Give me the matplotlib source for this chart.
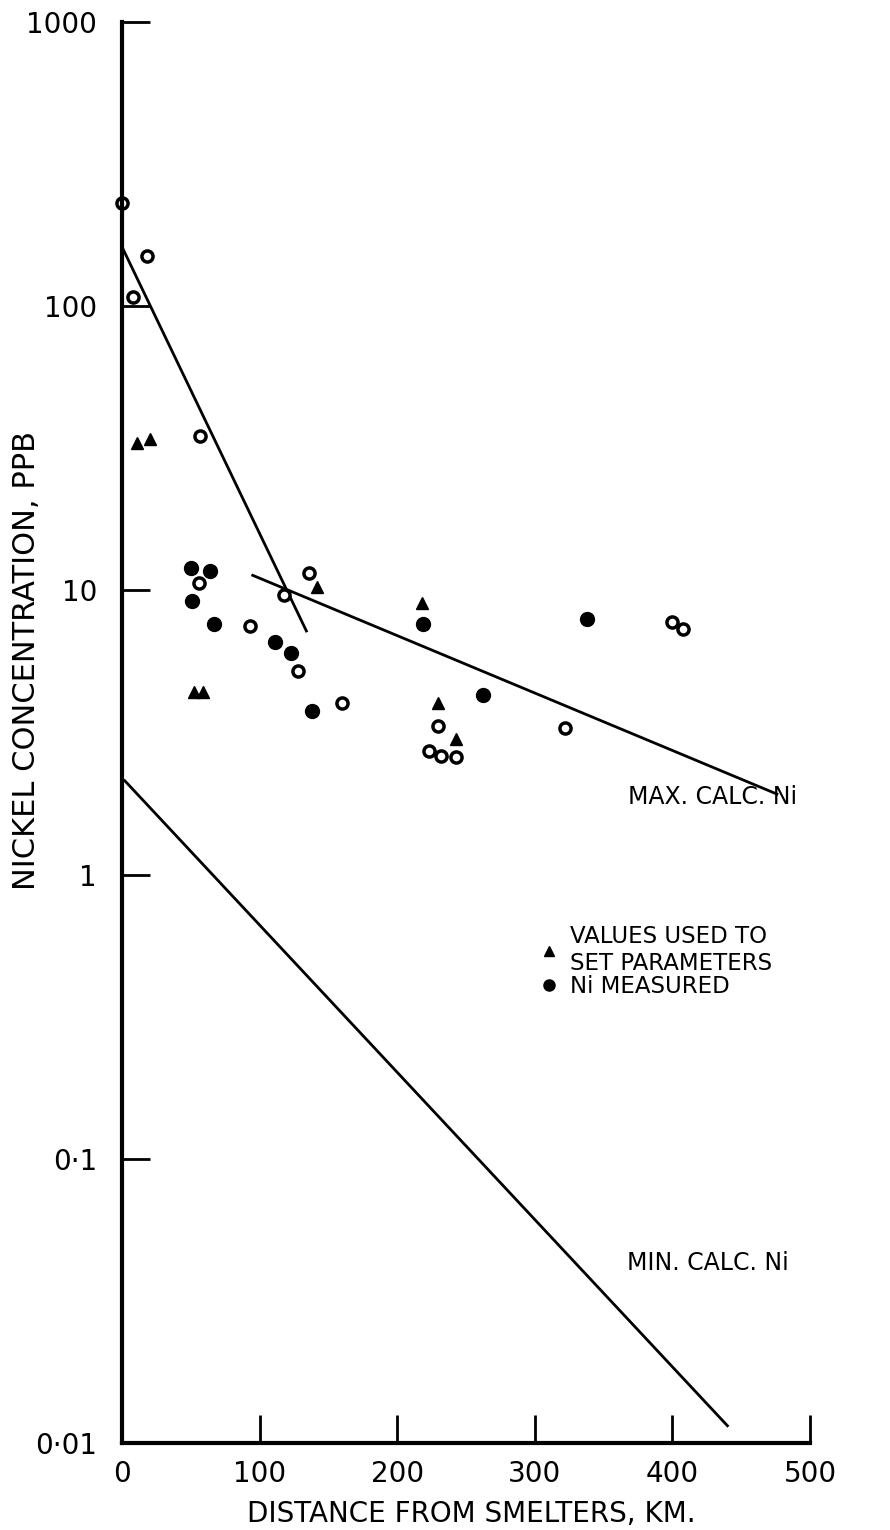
import numpy as np
import matplotlib
matplotlib.use("Agg")
from matplotlib import pyplot as plt

# %%
# Ni measured (filled circles)
meas_x = [50, 64, 51, 67, 111, 123, 138, 219, 262, 338]
meas_y = [12.0, 11.7, 9.2, 7.6, 6.6, 6.0, 3.75, 7.6, 4.3, 7.9]

# other samples (open circles)
open_x = [0, 8, 18, 57, 56, 93, 118, 128, 136, 160, 223, 230, 232, 243, 322, 400, 408]
open_y = [231, 108, 150, 35, 10.6, 7.5, 9.6, 5.2, 11.5, 4.0, 2.73, 3.33, 2.62, 2.59, 3.27, 7.75, 7.33]

# values used to set parameters (triangles)
tri_x = [11, 20, 52, 59, 142, 218, 230, 243]
tri_y = [33, 34, 4.4, 4.4, 10.3, 9.0, 4.0, 3.0]

# fitted / calculated lines
near_x = [1, 134]
near_y = [158, 7.2]
max_x = [95, 476]
max_y = [11.3, 1.92]
min_x = [2, 440]
min_y = [2.14, 0.0115]

xticks = [0, 100, 200, 300, 400, 500]
yticks = [1000, 100, 10, 1, 0.1, 0.01]
ytick_labels = ["1000", "100", "10", "1", "0·1", "0·01"]

# %%
plt.rcParams["font.family"] = ["DejaVu Sans"]
fig = plt.figure(figsize=(8.9, 15.3), dpi=100)
ax = fig.add_axes([122 / 890, 87 / 1530, 688 / 890, 1421 / 1530])

ax.plot(near_x, near_y, color="black", lw=2)
ax.plot(max_x, max_y, color="black", lw=2)
ax.plot(min_x, min_y, color="black", lw=2)

ax.plot(open_x, open_y, "o", ms=8, mfc="white", mec="black", mew=2.5,
        linestyle="none", clip_on=False)
ax.plot(meas_x, meas_y, "o", ms=10, color="black", linestyle="none",
        label="Ni MEASURED")
ax.plot(tri_x, tri_y, "^", ms=9, color="black", linestyle="none",
        label="VALUES USED TO\nSET PARAMETERS")

ax.text(368, 1.87, "MAX. CALC. Ni", fontsize=17, va="center", ha="left")
ax.text(367, 0.043, "MIN. CALC. Ni", fontsize=17, va="center", ha="left")

handles, labels = ax.get_legend_handles_labels()
ax.legend(handles[::-1], labels[::-1], loc="upper left",
          bbox_to_anchor=(0.578, 0.379), frameon=False, fontsize=16.5,
          handlelength=0.8, handletextpad=0.5, labelspacing=0.0,
          markerscale=0.8)

ax.set_yscale("log")
ax.set_xlim(0, 500)
ax.set_ylim(0.01, 1000)
ax.set_xticks(xticks)
ax.set_yticks(yticks, ytick_labels)
ax.minorticks_off()
ax.tick_params(direction="in", length=20, width=2, labelsize=20)
ax.tick_params(axis="x", pad=12)
ax.tick_params(axis="y", pad=18)

for side in ["top", "right"]:
    ax.spines[side].set_visible(False)
for side in ["left", "bottom"]:
    ax.spines[side].set_linewidth(3)

ax.set_xlabel("DISTANCE FROM SMELTERS, KM.", fontsize=20)
ax.set_ylabel("NICKEL CONCENTRATION, PPB", fontsize=22)
ax.yaxis.set_label_coords(-0.118, 0.551)
ax.xaxis.set_label_coords(0.507, -0.040)

fig.savefig("out.png", dpi=100)
